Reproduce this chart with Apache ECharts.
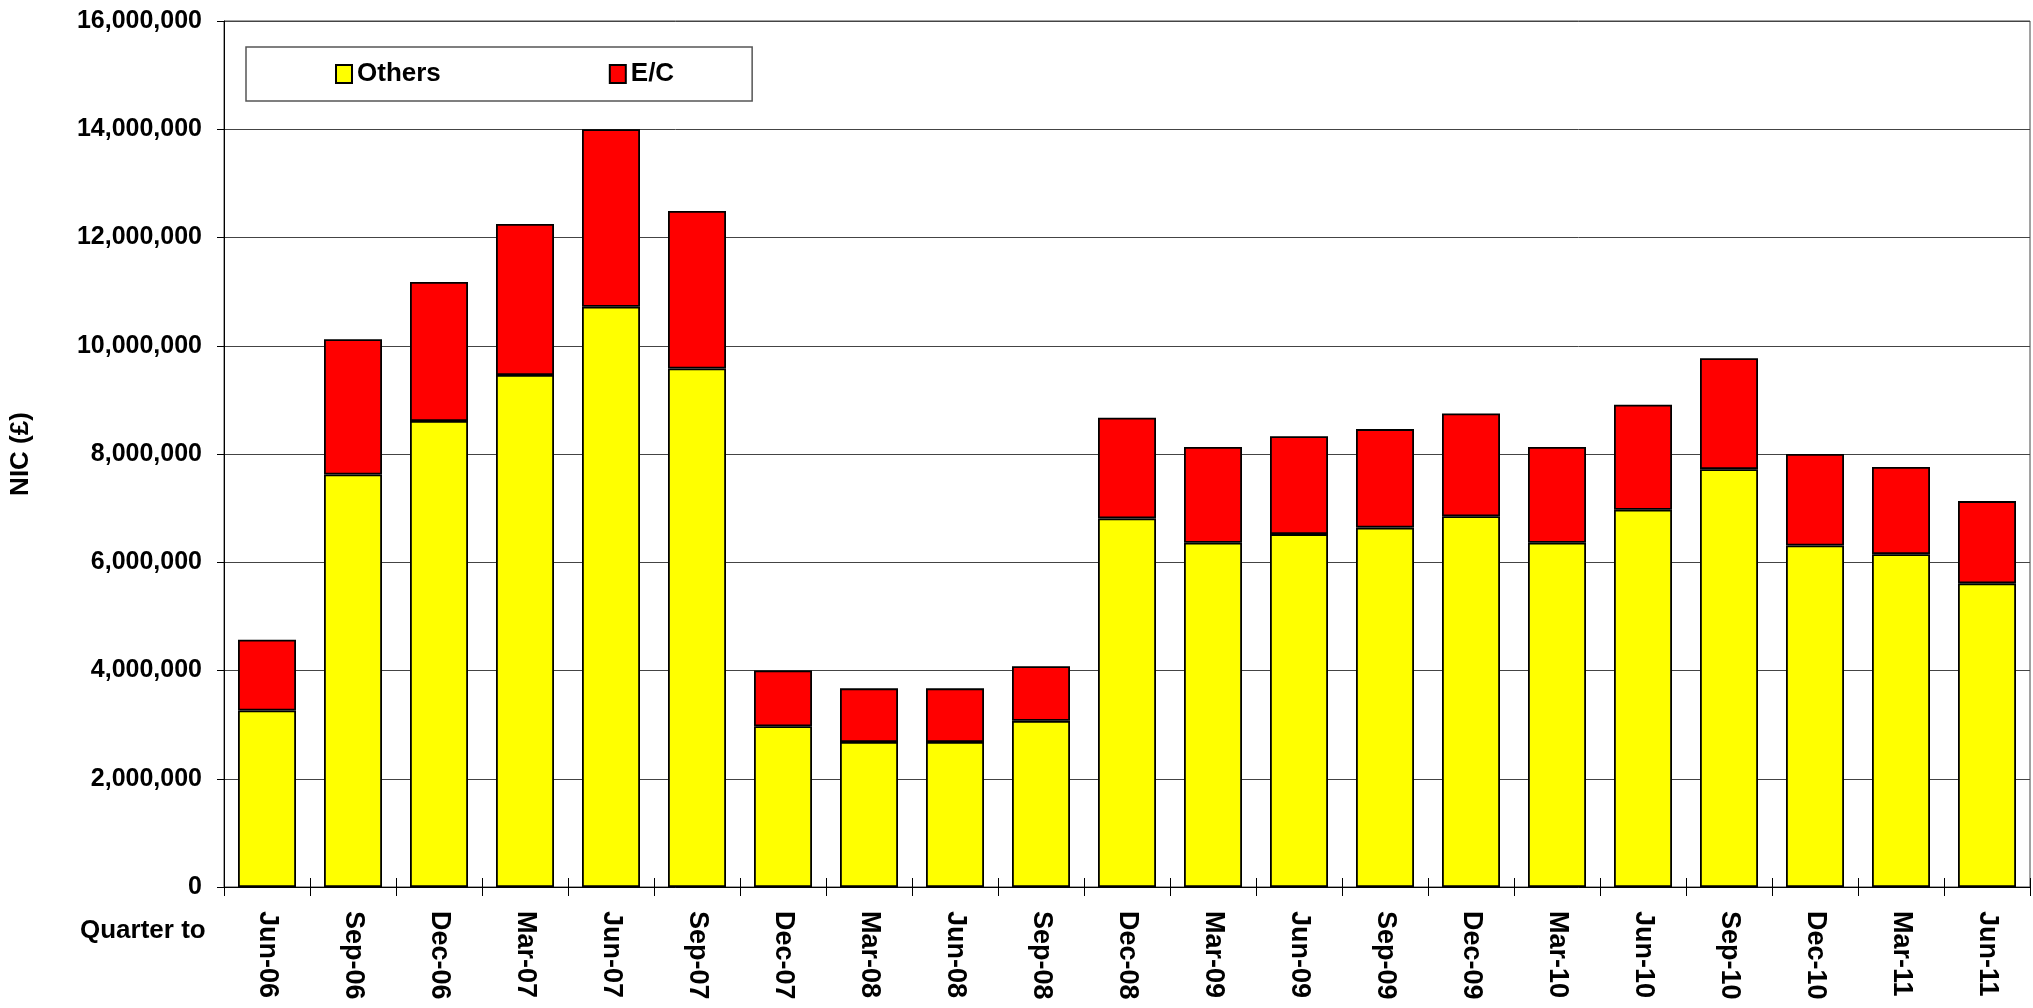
<!DOCTYPE html>
<html>
<head>
<meta charset="utf-8">
<script src="https://cdn.jsdelivr.net/npm/echarts@6/dist/echarts.min.js"></script>
<style>
html,body{margin:0;padding:0;background:#fff;}
#chart{width:2033px;height:1008px;}
</style>
</head>
<body>
<div id="chart"></div>
<script>
const categories = ['Jun-06','Sep-06','Dec-06','Mar-07','Jun-07','Sep-07','Dec-07','Mar-08','Jun-08','Sep-08','Dec-08','Mar-09','Jun-09','Sep-09','Dec-09','Mar-10','Jun-10','Sep-10','Dec-10','Mar-11','Jun-11'];
const othersValues = [3260000,7620000,8610000,9460000,10720000,9580000,2970000,2680000,2680000,3070000,6810000,6360000,6520000,6640000,6850000,6360000,6970000,7720000,6310000,6150000,5610000];
const ecValues = [1310000,2500000,2570000,2790000,3280000,2910000,1030000,990000,990000,1010000,1860000,1770000,1810000,1820000,1900000,1770000,1940000,2050000,1690000,1610000,1520000];
const yTicks = [0,2000000,4000000,6000000,8000000,10000000,12000000,14000000,16000000];

const FONT = "'Liberation Sans', Arial, sans-serif";
const chart = echarts.init(document.getElementById('chart'), null, {renderer:'canvas'});
chart.setOption({
  animation: false,
  backgroundColor: '#fff',
  grid: {left: 224, right: 3, top: 21, bottom: 121, show: true, borderColor: '#444', borderWidth: 1, backgroundColor: 'transparent'},
  legend: {
    left: 246, top: 47,
    data: ['Others', 'E/C'],
    backgroundColor: '#fff',
    borderColor: '#555', borderWidth: 1.5,
    padding: [14, 78, 14, 89],
    itemWidth: 16, itemHeight: 18, itemGap: 168,
    icon: 'rect',
    textStyle: {fontFamily: FONT, fontSize: 26, fontWeight: 'bold', color: '#000', padding: [0,0,0,0]}
  },
  xAxis: [{
    type: 'category', data: categories,
    axisLine: {lineStyle: {color: '#000', width: 1}},
    axisTick: {show: true, alignWithLabel: false, length: 9, lineStyle: {color: '#000'}},
    axisLabel: {rotate: -90, margin: 24, fontFamily: FONT, fontSize: 27, fontWeight: 'bold', color: '#000', interval: 0}
  }, {
    type: 'category', data: categories, position: 'bottom',
    axisLine: {show: false},
    axisTick: {show: true, inside: true, length: 9, lineStyle: {color: '#000'}},
    axisLabel: {show: false}
  }],
  yAxis: {
    type: 'value', min: yTicks[0], max: yTicks[yTicks.length-1], interval: 2000000,
    name: 'NIC (£)', nameLocation: 'middle', nameGap: 190, nameRotate: 90,
    nameTextStyle: {fontFamily: FONT, fontSize: 26, fontWeight: 'bold', color: '#000'},
    axisLine: {show: true, lineStyle: {color: '#000', width: 1}},
    axisTick: {show: true, length: 7, lineStyle: {color: '#000'}},
    axisLabel: {margin: 22, fontFamily: FONT, fontSize: 25, fontWeight: 'bold', color: '#000',
      formatter: v => v.toLocaleString('en-US')},
    splitLine: {show: true, lineStyle: {color: '#444', width: 1}}
  },
  graphic: [{
    type: 'text', left: 80, top: 918,
    style: {text: 'Quarter to', fontFamily: FONT, fontSize: 26, fontWeight: 'bold', fill: '#000'}
  }],
  series: [{
    name: 'Others', type: 'bar', stack: 'total', data: othersValues, barWidth: 58,
    itemStyle: {color: '#FFFF00', borderColor: '#000', borderWidth: 1.8}
  }, {
    name: 'E/C', type: 'bar', stack: 'total', data: ecValues, barWidth: 58,
    itemStyle: {color: '#FF0000', borderColor: '#000', borderWidth: 1.8}
  }]
});
</script>
</body>
</html>
